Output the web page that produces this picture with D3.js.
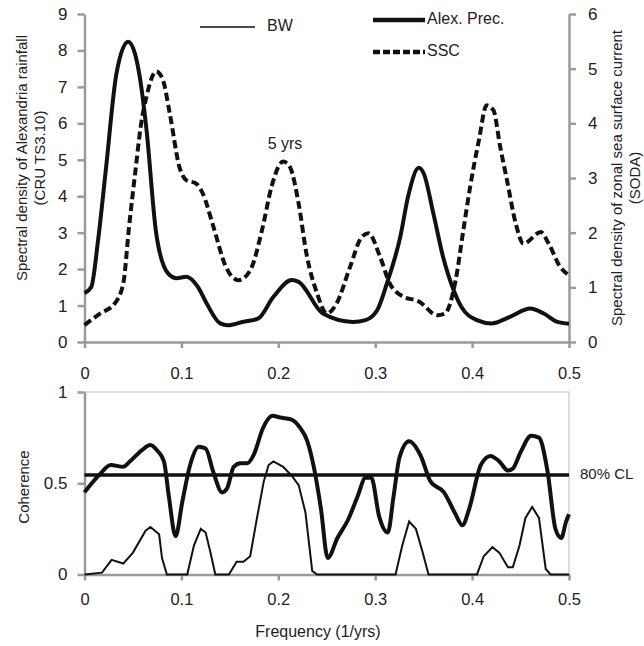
<!DOCTYPE html>
<html>
<head>
<meta charset="utf-8">
<script src="https://cdn.jsdelivr.net/npm/d3@7"></script>
<style>
  body { margin: 0; background: #fff; }
  text { font-family: "Liberation Sans", Arial, sans-serif; fill: #222; }
</style>
</head>
<body>
<div id="my_dataviz"></div>
<script>
// Top panel: spectral density (Alex. Prec. on left axis, SSC on right axis)
var alexFreq = [0, 0.007, 0.014, 0.022, 0.033, 0.045, 0.052, 0.057, 0.064, 0.074, 0.086, 0.095, 0.105, 0.117, 0.126,
  0.14, 0.148, 0.163, 0.179, 0.195, 0.214, 0.221, 0.246, 0.277, 0.29, 0.302, 0.312, 0.326, 0.334, 0.345,
  0.35, 0.36, 0.37, 0.381, 0.389, 0.405, 0.42, 0.439, 0.46, 0.474, 0.488, 0.5];
var alexVals = [1.34, 1.51, 2.79, 4.72, 7.37, 8.24, 7.92, 7.28, 5.82, 2.98, 1.89, 1.75, 1.79, 1.51, 1.06,
  0.51, 0.46, 0.55, 0.64, 1.24, 1.70, 1.65, 0.78, 0.55, 0.6, 0.87, 1.60, 2.9, 4.0, 4.78,
  4.63, 3.53, 2.34, 1.42, 0.96, 0.6, 0.51, 0.69, 0.92, 0.78, 0.55, 0.5];

var sscFreq = [0, 0.016, 0.031, 0.040, 0.046, 0.053, 0.058, 0.064, 0.074, 0.081, 0.088, 0.098, 0.105, 0.115, 0.122,
  0.133, 0.146, 0.159, 0.171, 0.184, 0.193, 0.205, 0.212, 0.221, 0.229, 0.240, 0.250, 0.260, 0.274, 0.286,
  0.293, 0.305, 0.315, 0.326, 0.346, 0.364, 0.372, 0.383, 0.391, 0.398, 0.407, 0.415, 0.422, 0.429, 0.436,
  0.445, 0.453, 0.471, 0.479, 0.491, 0.5];
var sscVals = [0.31, 0.52, 0.70, 1.07, 2.11, 3.2, 3.94, 4.49, 4.95, 4.79, 4.18, 3.2, 2.96, 2.90, 2.72,
  2.11, 1.37, 1.13, 1.31, 2.11, 2.84, 3.30, 3.2, 2.53, 1.62, 0.89, 0.52, 0.70, 1.37, 1.92,
  1.99, 1.56, 1.07, 0.86, 0.73, 0.49, 0.52, 1.13, 2.05, 2.84, 3.69, 4.33, 4.24, 3.57, 2.96,
  2.17, 1.80, 2.01, 1.80, 1.37, 1.22];

// Bottom panel: coherence and BW
var cohFreq = [0, 0.006, 0.016, 0.027, 0.040, 0.047, 0.059, 0.068, 0.075, 0.082, 0.087, 0.094, 0.101, 0.109, 0.118,
  0.125, 0.133, 0.142, 0.147, 0.154, 0.161, 0.168, 0.175, 0.184, 0.194, 0.202, 0.213, 0.223, 0.230, 0.237,
  0.244, 0.251, 0.261, 0.272, 0.282, 0.290, 0.296, 0.304, 0.313, 0.319, 0.325, 0.335, 0.347, 0.357, 0.371,
  0.382, 0.390, 0.397, 0.409, 0.419, 0.428, 0.437, 0.442, 0.450, 0.461, 0.469, 0.478, 0.486, 0.492, 0.497, 0.5];
var cohVals = [0.45, 0.49, 0.55, 0.60, 0.59, 0.62, 0.68, 0.71, 0.68, 0.62, 0.43, 0.21, 0.40, 0.60, 0.70,
  0.69, 0.56, 0.45, 0.47, 0.59, 0.61, 0.61, 0.66, 0.80, 0.87, 0.86, 0.85, 0.80, 0.73, 0.58,
  0.36, 0.09, 0.20, 0.30, 0.43, 0.53, 0.53, 0.32, 0.23, 0.43, 0.64, 0.73, 0.65, 0.51, 0.45,
  0.34, 0.27, 0.36, 0.60, 0.65, 0.62, 0.57, 0.58, 0.67, 0.76, 0.75, 0.56, 0.25, 0.20, 0.29, 0.33];

var bwFreq = [0, 0.018, 0.028, 0.040, 0.050, 0.063, 0.068, 0.077, 0.080, 0.085, 0.106, 0.113, 0.120, 0.125, 0.130,
  0.135, 0.149, 0.157, 0.164, 0.171, 0.178, 0.185, 0.190, 0.195, 0.205, 0.214, 0.221, 0.228, 0.235, 0.240,
  0.321, 0.328, 0.335, 0.342, 0.349, 0.355, 0.405, 0.412, 0.421, 0.428, 0.437, 0.442, 0.449, 0.455, 0.462,
  0.469, 0.476, 0.481, 0.5];
var bwVals = [0, 0.01, 0.08, 0.06, 0.12, 0.24, 0.26, 0.22, 0.09, 0, 0, 0.16, 0.25, 0.23, 0.12,
  0, 0, 0.07, 0.07, 0.10, 0.31, 0.51, 0.60, 0.62, 0.59, 0.54, 0.49, 0.34, 0.02, 0,
  0, 0.16, 0.29, 0.25, 0.12, 0, 0, 0.10, 0.15, 0.12, 0.04, 0.04, 0.16, 0.31, 0.37,
  0.31, 0.03, 0, 0];

var clLevel = 0.545;
var freqTicks = [0, 0.1, 0.2, 0.3, 0.4, 0.5];
var leftTicks = [0, 1, 2, 3, 4, 5, 6, 7, 8, 9];
var rightTicks = [0, 1, 2, 3, 4, 5, 6];
var cohTicks = [0, 0.5, 1];

var axisGray = "#9a9a9a";
var ink = "#111";

var svg = d3.select("#my_dataviz")
  .append("svg")
  .attr("width", 644)
  .attr("height", 646);

// Scales
var x = d3.scaleLinear().domain([0, 0.5]).range([84.5, 569]);
var yL = d3.scaleLinear().domain([0, 9]).range([342, 14]);
var yR = d3.scaleLinear().domain([0, 6]).range([342, 14]);
var yC = d3.scaleLinear().domain([0, 1]).range([574.5, 392]);

function styleAxis(g, size) {
  g.select(".domain").attr("stroke", axisGray).attr("stroke-width", 2.5);
  g.selectAll(".tick line").attr("stroke", axisGray).attr("stroke-width", 2.5);
  g.selectAll(".tick text").style("font-size", size + "px").attr("fill", "#222");
}

// ---------- top panel axes ----------
svg.append("g")
  .attr("transform", "translate(0,342)")
  .call(d3.axisBottom(x).tickValues(freqTicks).tickFormat(d3.format("")).tickSize(6).tickSizeOuter(0).tickPadding(19))
  .call(function(g) { styleAxis(g, 16.5); });

svg.append("g")
  .attr("transform", "translate(84.5,0)")
  .call(d3.axisLeft(yL).tickValues(leftTicks).tickFormat(d3.format("d")).tickSize(7).tickSizeOuter(0).tickPadding(10))
  .call(function(g) { styleAxis(g, 17); });

svg.append("g")
  .attr("transform", "translate(569,0)")
  .call(d3.axisRight(yR).tickValues(rightTicks).tickFormat(d3.format("d")).tickSize(7).tickSizeOuter(0).tickPadding(12))
  .call(function(g) { styleAxis(g, 17); });

// top panel lines
var lineL = d3.line().x(function(d) { return x(d[0]); }).y(function(d) { return yL(d[1]); }).curve(d3.curveMonotoneX);
var lineR = d3.line().x(function(d) { return x(d[0]); }).y(function(d) { return yR(d[1]); }).curve(d3.curveMonotoneX);

svg.append("path")
  .datum(d3.zip(sscFreq, sscVals))
  .attr("d", lineR)
  .attr("fill", "none")
  .attr("stroke", ink)
  .attr("stroke-width", 4)
  .attr("stroke-dasharray", "8,4");

svg.append("path")
  .datum(d3.zip(alexFreq, alexVals))
  .attr("d", lineL)
  .attr("fill", "none")
  .attr("stroke", ink)
  .attr("stroke-width", 4);

svg.append("text")
  .attr("x", 285).attr("y", 145)
  .attr("text-anchor", "middle").attr("dominant-baseline", "middle")
  .style("font-size", "16px")
  .text("5 yrs");

// axis titles
var leftTitle = svg.append("text")
  .attr("transform", "translate(22,158) rotate(-90)")
  .attr("text-anchor", "middle")
  .style("font-size", "15px");
leftTitle.append("tspan").attr("x", 0).attr("dy", "0.35em").text("Spectral density of Alexandria rainfall");
leftTitle.append("tspan").attr("x", 0).attr("dy", "1.2em").text("(CRU TS3.10)");

var rightTitle = svg.append("text")
  .attr("transform", "translate(617,178) rotate(-90)")
  .attr("text-anchor", "middle")
  .style("font-size", "15px");
rightTitle.append("tspan").attr("x", 0).attr("dy", "0.35em").text("Spectral density of zonal sea surface current");
rightTitle.append("tspan").attr("x", 0).attr("dy", "1.15em").text("(SODA)");

// legend
var legendItems = [
  {name: "BW", x1: 200, x2: 255, y: 27, w: 1.5, dash: null, tx: 267},
  {name: "Alex. Prec.", x1: 373, x2: 425, y: 20, w: 4.5, dash: null, tx: 427},
  {name: "SSC", x1: 373, x2: 425, y: 52, w: 4.5, dash: "7,3", tx: 427}
];
var legend = svg.selectAll(".legend").data(legendItems).enter().append("g").attr("class", "legend");
legend.append("line")
  .attr("x1", function(d) { return d.x1; })
  .attr("x2", function(d) { return d.x2; })
  .attr("y1", function(d) { return d.y; })
  .attr("y2", function(d) { return d.y; })
  .attr("stroke", ink)
  .attr("stroke-width", function(d) { return d.w; })
  .attr("stroke-dasharray", function(d) { return d.dash; });
legend.append("text")
  .attr("x", function(d) { return d.tx; })
  .attr("y", function(d) { return d.y; })
  .attr("dominant-baseline", "middle")
  .style("font-size", "16px")
  .text(function(d) { return d.name; });

// ---------- bottom panel ----------
svg.append("rect")
  .attr("x", 84.5).attr("y", 392)
  .attr("width", 569 - 84.5).attr("height", 574.5 - 392)
  .attr("fill", "none")
  .attr("stroke", "#bdbdbd")
  .attr("stroke-width", 1);

svg.append("g")
  .attr("transform", "translate(0,574.5)")
  .call(d3.axisBottom(x).tickValues(freqTicks).tickFormat(d3.format("")).tickSize(6).tickSizeOuter(0).tickPadding(13))
  .call(function(g) { styleAxis(g, 16.5); });

svg.append("g")
  .attr("transform", "translate(84.5,0)")
  .call(d3.axisLeft(yC).tickValues(cohTicks).tickFormat(d3.format("")).tickSize(7).tickSizeOuter(0).tickPadding(10))
  .call(function(g) { styleAxis(g, 17); });

var lineC = d3.line().x(function(d) { return x(d[0]); }).y(function(d) { return yC(d[1]); });

svg.append("path")
  .datum(d3.zip(bwFreq, bwVals))
  .attr("d", lineC)
  .attr("fill", "none")
  .attr("stroke", ink)
  .attr("stroke-width", 2);

svg.append("path")
  .datum(d3.zip(cohFreq, cohVals))
  .attr("d", lineC.curve(d3.curveMonotoneX))
  .attr("fill", "none")
  .attr("stroke", ink)
  .attr("stroke-width", 4);

// 80% confidence level
svg.append("line")
  .attr("x1", x(0)).attr("x2", x(0.5))
  .attr("y1", yC(clLevel)).attr("y2", yC(clLevel))
  .attr("stroke", ink)
  .attr("stroke-width", 3.5);

svg.append("text")
  .attr("x", 580).attr("y", yC(clLevel))
  .attr("dominant-baseline", "middle")
  .style("font-size", "15px")
  .text("80% CL");

svg.append("text")
  .attr("transform", "translate(25,487) rotate(-90)")
  .attr("text-anchor", "middle")
  .attr("dominant-baseline", "middle")
  .style("font-size", "15px")
  .text("Coherence");

svg.append("text")
  .attr("x", 318).attr("y", 633)
  .attr("text-anchor", "middle")
  .attr("dominant-baseline", "middle")
  .style("font-size", "16px")
  .text("Frequency (1/yrs)");
</script>
</body>
</html>
